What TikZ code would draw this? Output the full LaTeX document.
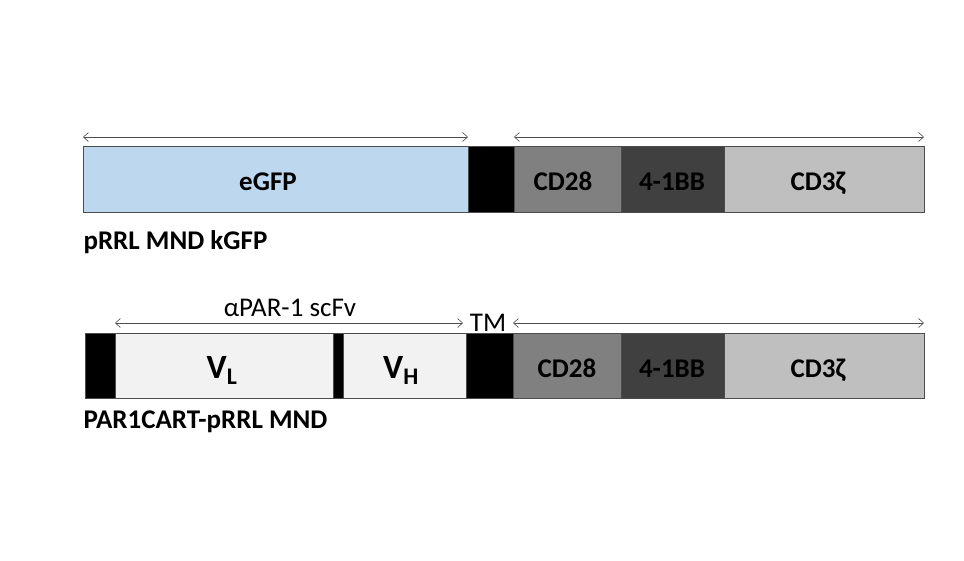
\documentclass[tikz,border=0pt]{standalone}
\usepackage{fontspec}
\setmainfont{Carlito}
\usetikzlibrary{arrows.meta}
\definecolor{gfp}{HTML}{BDD7EE}
\definecolor{cdA}{HTML}{808080}
\definecolor{cdB}{HTML}{404040}
\definecolor{cdC}{HTML}{BFBFBF}
\definecolor{vv}{HTML}{F2F2F2}
\begin{document}
\begin{tikzpicture}[x=1pt,y=-1pt,
  seg/.style={draw=black!70,line width=0.6pt},
  lab/.style={font=\bfseries\fontsize{27}{29}\selectfont,anchor=base},
  dim/.style={draw=black!70,line width=0.6pt,{Straight Barb[length=5pt,width=9pt]}-{Straight Barb[length=5pt,width=9pt]}}]
\useasboundingbox (0,0) rectangle (964,560);
% top construct
\filldraw[seg,fill=gfp] (83,146) rectangle (468,212);
\filldraw[seg,fill=black] (468,146) rectangle (514,212);
\filldraw[seg,fill=cdA] (514,146) rectangle (621,212);
\filldraw[seg,fill=cdB] (621,146) rectangle (724,212);
\filldraw[seg,fill=cdC] (724,146) rectangle (924,212);
\node[lab] (egfp) at (268,190) {eGFP};
\node[lab] (c28a) at (563,190) {CD28};
\node[lab] (bba) at (672,190) {4-1BB};
\node[lab] (c3a) at (818,190) {CD3ζ};
\coordinate (a1) at (83,137); \coordinate (a2) at (468,137);
\coordinate (a3) at (514,137); \coordinate (a4) at (924,137);
\draw[dim] (a1) -- (a2);
\draw[dim] (a3) -- (a4);
\node[lab,anchor=base west] (t1) at (80,249) {pRRL MND kGFP};
% bottom construct
\filldraw[seg,fill=black] (85,333) rectangle (115,398);
\filldraw[seg,fill=vv] (115,333) rectangle (333,398);
\filldraw[seg,fill=black] (333,333) rectangle (343,398);
\filldraw[seg,fill=vv] (343,333) rectangle (466,398);
\filldraw[seg,fill=black] (466,333) rectangle (513,398);
\filldraw[seg,fill=cdA] (513,333) rectangle (621,398);
\filldraw[seg,fill=cdB] (621,333) rectangle (724,398);
\filldraw[seg,fill=cdC] (724,333) rectangle (924,398);
\node[lab,font=\bfseries\fontsize{34}{36}\selectfont] (vl) at (222,378) {V\textsubscript{L}};
\node[lab,font=\bfseries\fontsize{34}{36}\selectfont] (vh) at (401,378) {V\textsubscript{H}};
\node[lab] (c28b) at (567,377) {CD28};
\node[lab] (bbb) at (672,377) {4-1BB};
\node[lab] (c3b) at (818,377) {CD3ζ};
\coordinate (b1) at (115,323); \coordinate (b2) at (463,323);
\coordinate (b3) at (513,323); \coordinate (b4) at (924,323);
\draw[dim] (b1) -- (b2);
\draw[dim] (b3) -- (b4);
\node[anchor=base,font=\fontsize{27}{29}\selectfont] (scfv) at (290,316) {αPAR-1 scFv};
\node[anchor=base,font=\fontsize{27}{29}\selectfont] (tm) at (488,331) {TM};
\node[lab,anchor=base west] (t2) at (80,428) {PAR1CART-pRRL MND};
\end{tikzpicture}
\end{document}
